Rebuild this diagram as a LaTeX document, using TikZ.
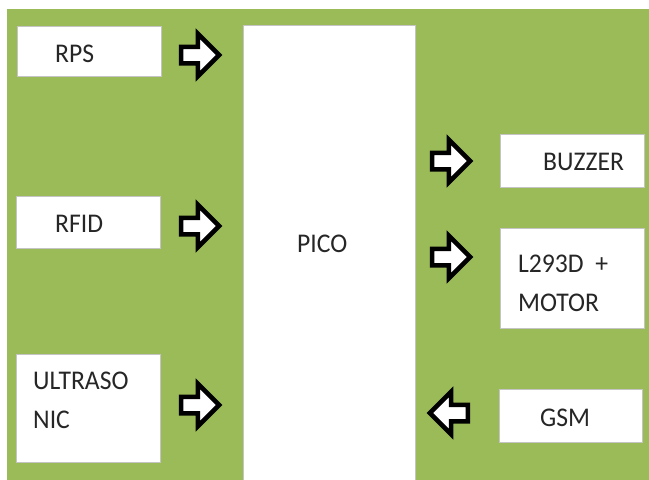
\documentclass[tikz,border=0pt]{standalone}
\usepackage{fontspec}
\setmainfont{Carlito}[FakeStretch=0.95]
\usetikzlibrary{shapes.arrows, positioning}
\definecolor{cgreen}{HTML}{9BBB59}
\definecolor{cedge}{HTML}{C4C4C4}
\definecolor{ctext}{HTML}{262626}
\tikzset{
  every picture/.style={font=\fontsize{27}{39}\selectfont},
  box/.style={draw=cedge, fill=white, line width=1pt, minimum width=144pt, minimum height=#1, inner sep=0pt},
  box/.default=51pt,
  lbl/.style={anchor=west, align=left, inner sep=0pt, text=ctext},
  flow/.style={single arrow, draw=black, fill=white, line width=4.5pt, minimum height=38pt, inner sep=6pt, single arrow head extend=13pt},
}

\begin{document}
\begin{tikzpicture}[x=1pt, y=-1pt]
  \useasboundingbox (0,0) rectangle (649,480);
  \fill[cgreen] (7,9) rectangle (649,480);
  % controller in the middle, running off the bottom edge
  \node[box, minimum width=172pt, minimum height=458pt] (pico) at (329,254) {};
  \node[lbl] (pico-t) at (297,244) {PICO};
  % inputs on the left
  \node[box=50pt] (rps) at (89,51) {};
  \node[lbl] (rps-t) at (55,54) {RPS};
  \node[box=52pt] (rfid) at (88,222) {};
  \node[lbl] (rfid-t) at (55,224) {RFID};
  \node[box=108pt] (ultra) at (88,408) {};
  \node[lbl] (ultra-t) at (33,400) {ULTRASO\\NIC};
  % outputs on the right
  \node[box=53pt] (buzzer) at (572,160.5) {};
  \node[lbl] (buzzer-t) at (543,162) {BUZZER};
  \node[box=100pt] (motor) at (572,278) {};
  \node[lbl] (motor-t) at (518,283) {L293D~~+\\MOTOR};
  \node[box=53pt, minimum width=143pt] (gsm) at (570.5,415.5) {};
  \node[lbl] (gsm-t) at (540,418) {GSM};
  % block arrows between the boxes
  \node[flow] (a-rps) at (196,55) {};
  \node[flow] (a-rfid) at (196,226) {};
  \node[flow] (a-ultra) at (196,405) {};
  \node[flow] (a-buzzer) at (447,161) {};
  \node[flow] (a-motor) at (447,257) {};
  \node[flow, shape border rotate=180] (a-gsm) at (453,413) {};
\end{tikzpicture}
\end{document}
